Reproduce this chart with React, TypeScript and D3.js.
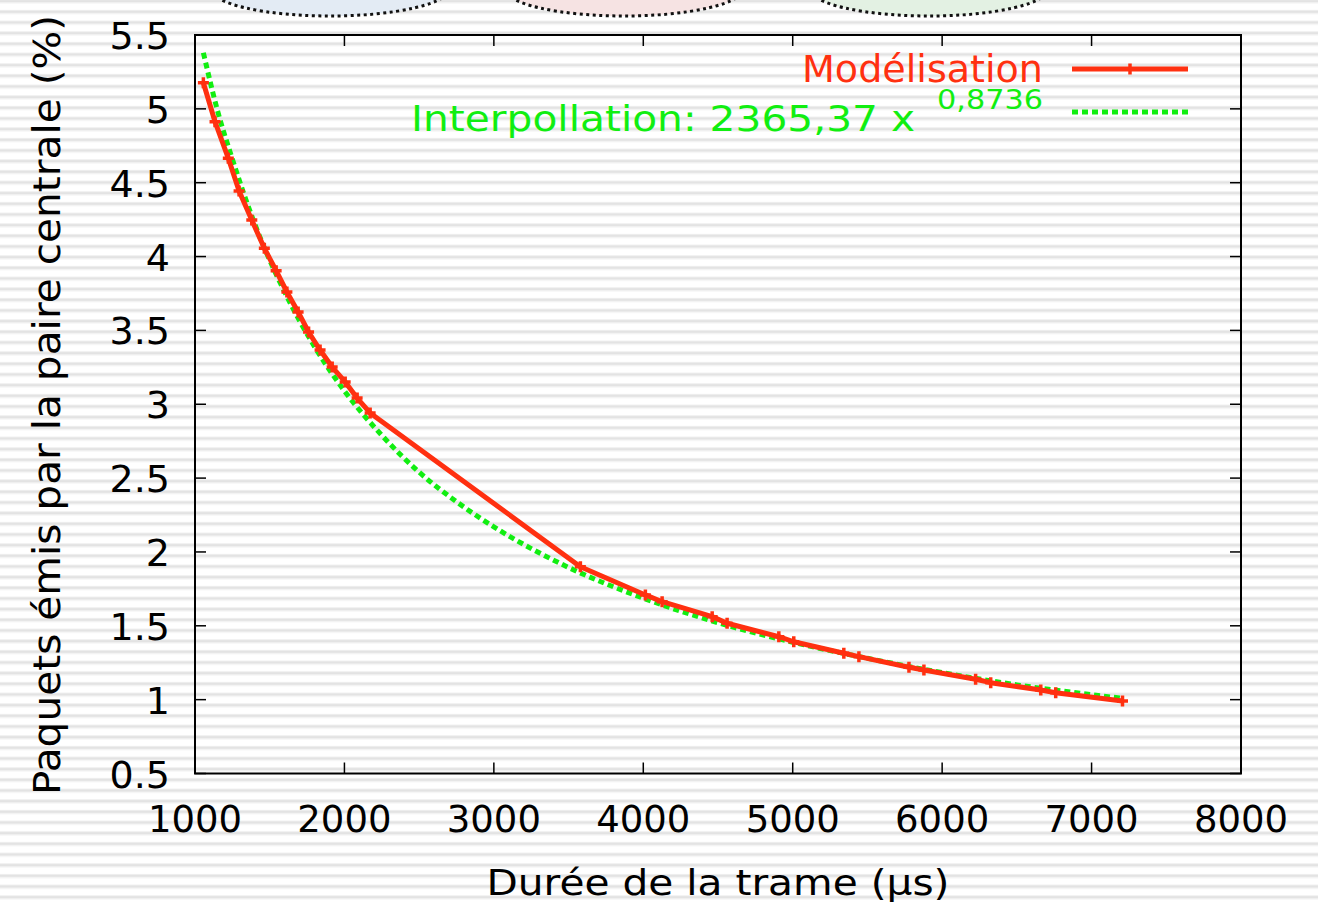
import React from "react";
import * as d3 from "d3";

// Modélisation (red, measured points)
const frameDurations = [
  1056, 1134, 1223, 1295, 1380, 1464, 1543, 1615, 1690, 1760, 1837, 1918, 2005, 2085, 2172,
  3579, 4014, 4126, 4461, 4561, 4907, 5007, 5342, 5443, 5778, 5878, 6224, 6325, 6660, 6760, 7207,
];
const packetShare = [
  5.177, 4.913, 4.665, 4.444, 4.247, 4.056, 3.904, 3.76, 3.625, 3.489, 3.367, 3.252, 3.151, 3.042, 2.941,
  1.9, 1.709, 1.663, 1.562, 1.517, 1.426, 1.392, 1.314, 1.291, 1.219, 1.201, 1.138, 1.115, 1.065, 1.047, 0.991,
];

// Interpollation (green dotted curve)
const fitDurations = [1056, 1150, 1250, 1400, 1600, 1800, 2000, 2250, 2500, 2750, 3000, 3500, 4000, 4500, 5000, 5500, 6000, 6500, 7000, 7195];
const fitShare = [5.38, 4.99, 4.66, 4.22, 3.76, 3.39, 3.09, 2.79, 2.54, 2.34, 2.17, 1.895, 1.687, 1.521, 1.389, 1.28, 1.183, 1.10, 1.034, 1.01];

const xTicks = [1000, 2000, 3000, 4000, 5000, 6000, 7000, 8000];
const yTicks = [0.5, 1, 1.5, 2, 2.5, 3, 3.5, 4, 4.5, 5, 5.5];

const W = 1318;
const H = 904;
const RED = "#ff3010";
const GREEN = "#11ee11";
const FONT = "'Comic Sans MS', 'DejaVu Sans', sans-serif";

export default function App() {
  const x = d3.scaleLinear().domain([1000, 8000]).range([195, 1241]);
  const y = d3.scaleLinear().domain([0.5, 5.5]).range([773.5, 35]);
  const [x0, x1] = x.range();
  const [y0, y1] = y.range();

  const pts = frameDurations.map((d, i) => [d, packetShare[i]] as [number, number]);
  const fit = fitDurations.map((d, i) => [d, fitShare[i]] as [number, number]);

  const redLine = d3.line<[number, number]>().x(d => x(d[0])).y(d => y(d[1]));
  const greenLine = d3.line<[number, number]>().x(d => x(d[0])).y(d => y(d[1])).curve(d3.curveMonotoneX);

  const tick = 11;
  const plus = "M-5.5,0h11M0,-5.5v11";

  return (
    <svg width={W} height={H} style={{ position: "absolute", left: 0, top: 0 }} fontFamily={FONT}>
      <defs>
        <pattern id="stripes" patternUnits="userSpaceOnUse" width={20} height={10.667} y={-0.8}>
          <rect width={20} height={10.667} fill="#ffffff" />
          <rect y={0} width={20} height={1} fill="#efefef" />
          <rect y={1} width={20} height={2.2} fill="#e3e3e3" />
          <rect y={3.2} width={20} height={1} fill="#efefef" />
        </pattern>
      </defs>
      <rect width={W} height={H} fill="url(#stripes)" />

      {/* partial ellipses at the top */}
      {[
        { cx: 330, fill: "#e3ebf4" },
        { cx: 624, fill: "#f6e3e3" },
        { cx: 929, fill: "#e3f1e3" },
      ].map((e, i) => (
        <ellipse key={i} cx={e.cx} cy={-12} rx={120} ry={28} fill={e.fill}
          stroke="#111" strokeWidth={3} strokeDasharray="3,3.5" />
      ))}

      {/* frame */}
      <rect x={x0} y={y1} width={x1 - x0} height={y0 - y1} fill="none" stroke="#000" strokeWidth={2} />

      {/* x ticks */}
      {xTicks.map(t => (
        <g key={t}>
          <line x1={x(t)} x2={x(t)} y1={y0} y2={y0 - tick} stroke="#000" strokeWidth={1.5} />
          <line x1={x(t)} x2={x(t)} y1={y1} y2={y1 + tick} stroke="#000" strokeWidth={1.5} />
          <text x={x(t)} y={832} textAnchor="middle" fontSize={37} fill="#000">{t}</text>
        </g>
      ))}

      {/* y ticks */}
      {yTicks.map(t => (
        <g key={t}>
          <line x1={x0} x2={x0 + tick} y1={y(t)} y2={y(t)} stroke="#000" strokeWidth={1.5} />
          <line x1={x1} x2={x1 - tick} y1={y(t)} y2={y(t)} stroke="#000" strokeWidth={1.5} />
          <text x={170} y={y(t) + 14} textAnchor="end" fontSize={38} fill="#000">{t}</text>
        </g>
      ))}

      {/* axis titles */}
      <text x={718} y={895} textAnchor="middle" fontSize={36} fill="#000" textLength={463} lengthAdjust="spacingAndGlyphs">
        Durée de la trame (μs)
      </text>
      <text transform="translate(60,405) rotate(-90)" textAnchor="middle" fontSize={37} fill="#000"
        textLength={780} lengthAdjust="spacingAndGlyphs">
        Paquets émis par la paire centrale (%)
      </text>

      {/* green fit */}
      <path d={greenLine(fit) ?? ""} fill="none" stroke={GREEN} strokeWidth={5} strokeDasharray="6,4" />

      {/* red model */}
      <path d={redLine(pts) ?? ""} fill="none" stroke={RED} strokeWidth={5} strokeLinejoin="round" />
      {pts.map((p, i) => (
        <path key={i} d={plus} transform={`translate(${x(p[0])},${y(p[1])})`} stroke={RED} strokeWidth={3.5} fill="none" />
      ))}

      {/* legend */}
      <text x={1043} y={82} textAnchor="end" fontSize={37} fill={RED} textLength={241} lengthAdjust="spacingAndGlyphs">
        Modélisation
      </text>
      <line x1={1072} x2={1188} y1={69} y2={69} stroke={RED} strokeWidth={5} />
      <path d={plus} transform="translate(1130,69)" stroke={RED} strokeWidth={3.5} fill="none" />

      <text x={411} y={131} fontSize={36} fill={GREEN} textLength={504} lengthAdjust="spacingAndGlyphs">
        Interpollation: 2365,37 x
      </text>
      <text x={937} y={109} fontSize={27} fill={GREEN} textLength={106} lengthAdjust="spacingAndGlyphs">
        0,8736
      </text>
      <line x1={1072} x2={1188} y1={112} y2={112} stroke={GREEN} strokeWidth={5} strokeDasharray="6,4" />
    </svg>
  );
}
